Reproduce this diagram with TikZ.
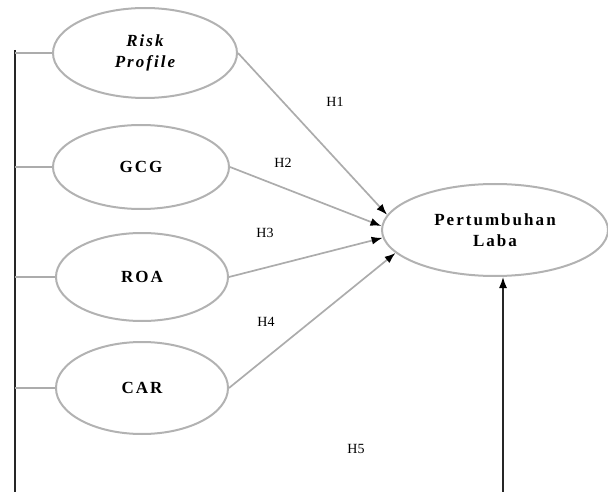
\documentclass[tikz,border=0pt]{standalone}
\usepackage{fontspec}
\setmainfont{Liberation Serif}
\newfontfamily\spc[LetterSpace=12]{Liberation Serif}
\usetikzlibrary{shapes.geometric,arrows.meta,positioning,calc}
\tikzstyle{var}=[ellipse,draw=gray!60,line width=2pt,minimum width=176pt,minimum height=84pt,align=center,font=\spc\bfseries\fontsize{17}{21}\selectfont]
\tikzstyle{hyp}=[font=\fontsize{14}{16}\selectfont,inner sep=1pt]
\tikzset{
	path/.style={draw=gray!65,line width=1.7pt,-{Latex[black,length=11pt,width=8pt]}},
	stub/.style={draw=gray!65,line width=2pt},
	spine/.style={draw=black!85,line width=1.5pt}
}

\begin{document}
\begin{tikzpicture}[x=1pt,y=-1pt]
    \useasboundingbox (0,0) rectangle (608,492);
    \node (risk) [var,minimum width=184pt,minimum height=90pt] at (145,53) {\itshape Risk\\\itshape Profile};
    \node (gcg) [var] at (141,167) {GCG};
    \node (roa) [var,minimum width=172pt,minimum height=88pt] at (142,277) {ROA};
    \node (car) [var,minimum width=172pt,minimum height=92pt] at (142,388) {CAR};
    \node (laba) [var,minimum width=226pt,minimum height=92pt] at (495,230) {Pertumbuhan\\Laba};

    \coordinate (top) at (15,50);
    \coordinate (bot) at (15,492);
    \coordinate (base) at (503,492);
    \draw[spine] (top) -- (bot);
    \draw[stub] (risk.west) -- (risk.west -| top);
    \draw[stub] (gcg.west) -- (gcg.west -| top);
    \draw[stub] (roa.west) -- (roa.west -| top);
    \draw[stub] (car.west) -- (car.west -| top);

    \draw[path] (risk.east) -- (laba.172);
    \draw[path] (gcg.east) -- (laba.178);
    \draw[path] (roa.east) -- (laba.184);
    \draw[path] (car.east) -- (laba.193);
    \draw[spine,-{Latex[black,length=11pt,width=8pt]}] (base) -- (base |- laba.south);

    \node (h1) [hyp] at (335,102) {H1};
    \node (h2) [hyp] at (283,163) {H2};
    \node (h3) [hyp] at (265,233) {H3};
    \node (h4) [hyp] at (266,322) {H4};
    \node (h5) [hyp] at (356,449) {H5};
\end{tikzpicture}
\end{document}
